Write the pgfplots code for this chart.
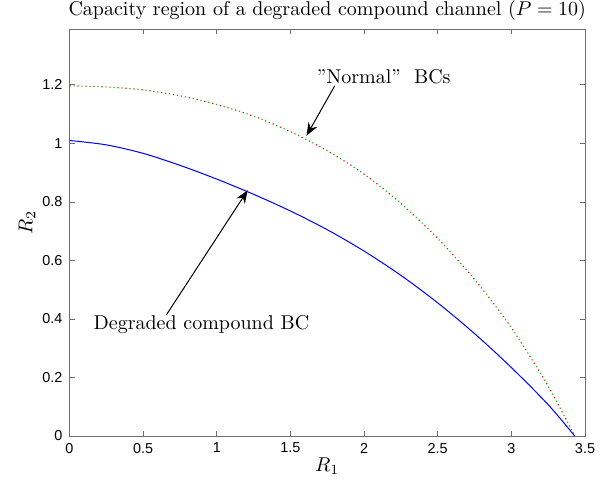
\documentclass[border=0pt]{standalone}
\usepackage{fontspec}
\newfontfamily\arial{Liberation Sans}
\usepackage{pgfplots}
\pgfplotsset{compat=1.18}
\usetikzlibrary{arrows.meta}

\definecolor{axgray}{RGB}{110,110,110}
\definecolor{mblue}{RGB}{0,0,255}
\definecolor{mred}{RGB}{255,0,0}
\definecolor{mgreen}{RGB}{0,190,0}

\begin{document}
\begin{tikzpicture}
\begin{axis}[
  scale only axis, width=257.75pt, height=203.35pt,
  at={(0,0)}, anchor=south west,
  xmin=0, xmax=3.5, ymin=0, ymax=1.39,
  xtick={0,0.5,1,1.5,2,2.5,3,3.5},
  ytick={0,0.2,0.4,0.6,0.8,1,1.2},
  xtick pos=both, ytick pos=both,
  tick align=inside, major tick length=2.5pt,
  axis line style={draw=axgray},
  every tick/.style={draw=axgray},
  tick label style={font=\arial\fontsize{7.2}{8.5}\selectfont},
  /pgf/number format/assume math mode=true,
  title={Capacity region of a degraded compound channel ($P=10$)},
  every axis title/.style={at={(axis description cs:0.5,1)}, anchor=base, yshift=6.7pt},
  xlabel={$R_1$},
  every axis x label/.style={at={(axis description cs:0.5,0)}, anchor=base, yshift=-18pt},
  ylabel={$R_2$},
  every axis y label/.style={at={(axis description cs:-0.0825,0.524)}, anchor=center, rotate=90},
  clip=false,
]
% degraded compound BC
\addplot[mblue, line width=0.5pt, smooth, tension=0.5] coordinates {
  (0,1.010) (0.25,0.995) (0.5,0.966) (0.75,0.925) (1.0,0.878) (1.25,0.826)
  (1.5,0.769) (1.75,0.705) (2.0,0.632) (2.25,0.549) (2.5,0.455) (2.75,0.350)
  (3.0,0.234) (3.25,0.107) (3.43,0)
};
% "normal" BCs
\addplot[mred, line width=0.55pt, dash pattern=on 0.6pt off 3.4pt, smooth, tension=0.5] coordinates {
  (0,1.197) (0.25,1.193) (0.5,1.183) (0.75,1.163) (1.0,1.133) (1.25,1.093)
  (1.5,1.040) (1.75,0.975) (2.0,0.895) (2.25,0.795) (2.5,0.675) (2.75,0.535)
  (3.0,0.370) (3.25,0.170) (3.43,0)
};
\addplot[mgreen, line width=0.55pt, dash pattern=on 0.6pt off 3.4pt, dash phase=2pt, smooth, tension=0.5] coordinates {
  (0,1.197) (0.25,1.193) (0.5,1.183) (0.75,1.163) (1.0,1.133) (1.25,1.093)
  (1.5,1.040) (1.75,0.975) (2.0,0.895) (2.25,0.795) (2.5,0.675) (2.75,0.535)
  (3.0,0.370) (3.25,0.170) (3.43,0)
};

\node[anchor=west, inner sep=0pt] at (axis cs:1.677,1.227) {''Normal''\ \ BCs};
\draw[line width=0.5pt, -{Stealth[length=6.5pt,width=5pt]}] (axis cs:1.801,1.197) -- (axis cs:1.609,1.026);

\node[anchor=west, inner sep=0pt] at (axis cs:0.161,0.381) {Degraded compound BC};
\draw[line width=0.5pt, -{Stealth[length=6.5pt,width=5pt]}] (axis cs:0.659,0.415) -- (axis cs:1.21,0.84);
\end{axis}
\pgfresetboundingbox
\path[use as bounding box] (-34.75pt,-22pt) rectangle (269.75pt,218pt);
\end{tikzpicture}
\end{document}
